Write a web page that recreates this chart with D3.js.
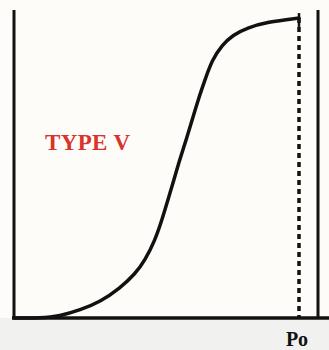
<!DOCTYPE html>
<html>
<head>
<meta charset="utf-8">
<script src="https://cdn.jsdelivr.net/npm/d3@7"></script>
<style>
  html, body { margin: 0; padding: 0; background: #fdfcf8; }
  svg { display: block; }
</style>
</head>
<body>
<script>
(function() {

// relative pressure P/Po (percent) and amount adsorbed (percent of max)
var pressure = [0, 9.1, 16.1, 23.2, 30.2, 37.2, 42.5, 46.0, 49.5, 51.9, 54.0, 56.1, 58.1, 60.4, 62.5, 64.6, 67.0, 69.5, 73.0, 76.8, 81.8, 88.8, 100];
var adsorbed = [0, 0, 0.6, 2.6, 5.2, 9.7, 14.3, 18.8, 25.3, 31.8, 38.3, 44.8, 51.3, 57.8, 64.3, 70.8, 77.3, 83.8, 88.6, 91.9, 94.2, 96.1, 97.4];
var typeLabel = "TYPE V";
var xLabel = "Po";

var width = 329, height = 350;

var x = d3.scaleLinear().domain([0, 100]).range([14, 299]);
var y = d3.scaleLinear().domain([0, 100]).range([318, 10]);

var svg = d3.select("body").append("svg")
    .attr("width", width)
    .attr("height", height);

// grey strip under the base line
svg.append("rect")
    .attr("x", 0).attr("y", y(0))
    .attr("width", width).attr("height", height - y(0))
    .attr("fill", "#f1f1ef");

var frame = svg.append("g")
    .attr("stroke", "#111")
    .attr("stroke-width", 3);

// left axis
frame.append("line")
    .attr("x1", x(0)).attr("x2", x(0))
    .attr("y1", y(100)).attr("y2", y(0));

// right border
frame.append("line")
    .attr("x1", 318).attr("x2", 318)
    .attr("y1", y(100)).attr("y2", y(0));

// base line
frame.append("line")
    .attr("x1", x(0) - 2).attr("x2", width)
    .attr("y1", y(0)).attr("y2", y(0))
    .attr("stroke-width", 3.5);

// dashed line at Po
svg.append("line")
    .attr("x1", x(100)).attr("x2", x(100))
    .attr("y1", y(97.4)).attr("y2", y(0))
    .attr("stroke", "#111")
    .attr("stroke-width", 3.5)
    .attr("stroke-dasharray", "5,4");

// end marker on top of the dashed line
svg.append("line")
    .attr("x1", x(100)).attr("x2", x(100))
    .attr("y1", y(99)).attr("y2", y(94.5))
    .attr("stroke", "#111")
    .attr("stroke-width", 2.5);

var pts = pressure.map(function(p, i) { return [p, adsorbed[i]]; });

var line = d3.line()
    .x(function(d) { return x(d[0]); })
    .y(function(d) { return y(d[1]); })
    .curve(d3.curveBasis);

svg.append("path")
    .datum(pts)
    .attr("d", line)
    .attr("fill", "none")
    .attr("stroke", "#111")
    .attr("stroke-width", 3.5)
    .attr("stroke-linecap", "round");

svg.append("text")
    .attr("x", 45).attr("y", 150)
    .attr("font-family", "Liberation Serif, Times New Roman, serif")
    .attr("font-weight", "bold")
    .attr("font-size", 23)
    .attr("fill", "#d9342b")
    .attr("textLength", 85)
    .text(typeLabel);

svg.append("text")
    .attr("x", x(100) - 2).attr("y", 346)
    .attr("text-anchor", "middle")
    .attr("font-family", "Liberation Serif, Times New Roman, serif")
    .attr("font-weight", "bold")
    .attr("font-size", 20)
    .attr("fill", "#111")
    .text(xLabel);

})();
</script>
</body>
</html>
